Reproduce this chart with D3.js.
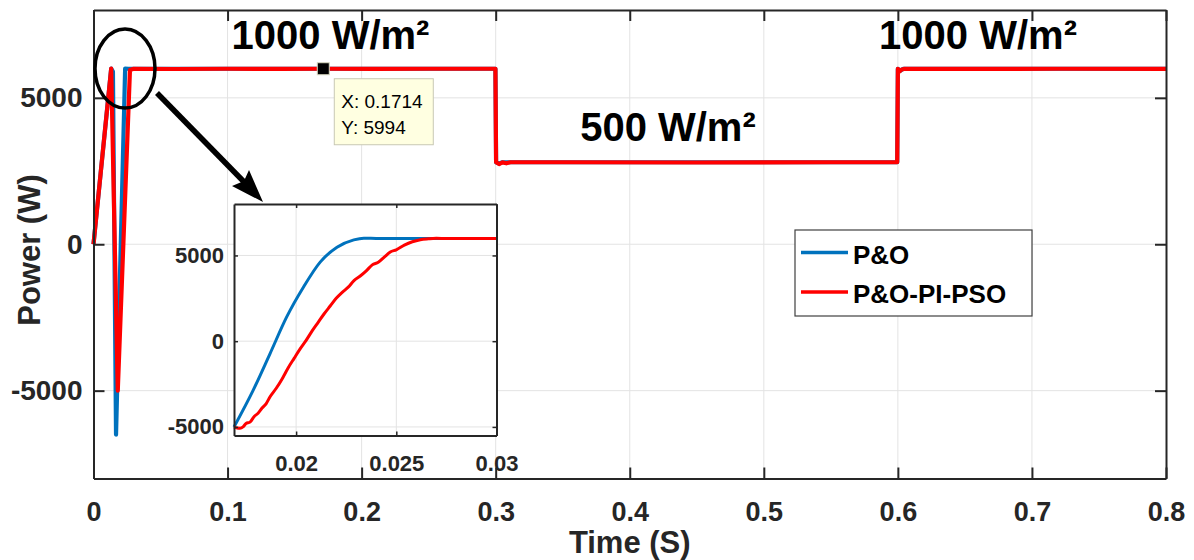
<!DOCTYPE html>
<html>
<head>
<meta charset="utf-8">
<script src="https://cdn.jsdelivr.net/npm/d3@7"></script>
<style>
  html, body { margin: 0; padding: 0; background: #fff; }
  svg { display: block; font-family: "Liberation Sans", Arial, Helvetica, sans-serif; }
</style>
</head>
<body>
<svg id="chart" width="1194" height="560"></svg>
<script>
// ---- Main plot data: output power (W) versus time (s) ----
const pandoTime  = [0, 0.0132, 0.0145, 0.0168, 0.0236, 0.026, 0.1, 0.2, 0.2998, 0.3003, 0.3025, 0.305, 0.4, 0.5, 0.5995, 0.6, 0.6015, 0.604, 0.7, 0.8];
const pandoPower = [0, 6000, 5900, -6500, 6000, 5994, 5994, 5994, 5994, 2800, 2760, 2800, 2800, 2800, 2800, 5994, 5920, 5994, 5994, 5994];

const psoTime  = [0, 0.0132, 0.0181, 0.0272, 0.03, 0.06, 0.1, 0.14, 0.1714, 0.21, 0.25, 0.2998, 0.3003, 0.3025, 0.305, 0.308, 0.311, 0.35, 0.45, 0.55, 0.5995, 0.6, 0.6012, 0.6025, 0.605, 0.65, 0.72, 0.8];
const psoPower = [0, 6000, -5000, 5950, 5994, 5985, 5994, 5988, 5994, 5986, 5994, 5994, 2800, 2740, 2795, 2765, 2800, 2800, 2792, 2800, 2800, 5994, 5900, 5960, 5994, 5988, 5994, 5990];

const xTicks = [0, 0.1, 0.2, 0.3, 0.4, 0.5, 0.6, 0.7, 0.8];
const yTicks = [-5000, 0, 5000];

// ---- Inset data: start-up transient ----
const insetPandoTime  = [0.0169, 0.01786, 0.0187, 0.01953, 0.02037, 0.0212, 0.02204, 0.02288, 0.02338, 0.024, 0.025, 0.026, 0.027, 0.028, 0.029, 0.03];
const insetPandoPower = [-5000, -2850, -720, 1415, 3160, 4610, 5480, 5910, 6008, 5990, 5982, 5994, 5985, 5994, 5990, 5985];

const insetPsoTime  = [0.0169, 0.01705, 0.0172, 0.01735, 0.0175, 0.0177, 0.0179, 0.0181, 0.0183, 0.0185, 0.0187, 0.0190, 0.0193, 0.0196, 0.0199, 0.0202, 0.0205, 0.0208, 0.0211, 0.0214, 0.0217, 0.0220, 0.0223, 0.0226, 0.0229, 0.0232, 0.0235, 0.0238, 0.0241, 0.0244, 0.0247, 0.0250, 0.0254, 0.0258, 0.0262, 0.0266, 0.0270, 0.0275, 0.028, 0.0285, 0.029, 0.0295, 0.03];
const insetPsoPower = [-5000, -5060, -5070, -5000, -4800, -4720, -4400, -4200, -3900, -3650, -3240, -2760, -2200, -1560, -1000, -450, 50, 600, 1100, 1600, 2050, 2500, 2850, 3150, 3550, 3800, 4100, 4450, 4600, 4900, 5200, 5330, 5600, 5800, 5920, 5970, 6000, 5990, 5994, 5985, 5994, 5990, 5985];

const insetXTicks = [0.02, 0.025, 0.03];
const insetYTicks = [-5000, 0, 5000];

const seriesNames = ["P&O", "P&O-PI-PSO"];
const seriesColors = ["#0072BD", "#FF0000"];

const irradianceLabels = [
  { text: "1000 W/m²", t: 0.103, p: 6668 },
  { text: "500 W/m²",  t: 0.363, p: 3526 },
  { text: "1000 W/m²", t: 0.586, p: 6668 }
];

const tipTime = 0.1714, tipPower = 5994;

// ---- Layout ----
const svg = d3.select("#chart");
svg.append("rect").attr("width", 1194).attr("height", 560).attr("fill", "#fff");

const M = { left: 93.5, right: 1166, top: 10, bottom: 478.5 };
const x = d3.scaleLinear().domain([0, 0.8]).range([M.left, M.right]);
const y = d3.scaleLinear().domain([-8000, 8000]).range([M.bottom, M.top]);

const axisColor = "#262626";
const gridColor = "#e3e3e3";
const fmtInt = d => String(d);   // plain hyphen for negatives

// grid
const g = svg.append("g");
g.selectAll(".gx").data(xTicks.slice(1, -1)).enter().append("line")
  .attr("x1", d => x(d)).attr("x2", d => x(d)).attr("y1", M.top).attr("y2", M.bottom)
  .attr("stroke", gridColor).attr("stroke-width", 1);
g.selectAll(".gy").data(yTicks).enter().append("line")
  .attr("y1", d => y(d)).attr("y2", d => y(d)).attr("x1", M.left).attr("x2", M.right)
  .attr("stroke", gridColor).attr("stroke-width", 1);

// series
const line = d3.line().x(d => x(d[0])).y(d => y(d[1]));
const mainSeries = [
  d3.zip(pandoTime, pandoPower),
  d3.zip(psoTime, psoPower)
];
mainSeries.forEach((s, i) => {
  svg.append("path").datum(s).attr("d", line)
    .attr("fill", "none").attr("stroke", seriesColors[i])
    .attr("stroke-width", 4.2).attr("stroke-linejoin", "round");
});

// axes (ticks inside, box on)
function styleAxis(sel, fontSize) {
  sel.select(".domain").attr("stroke", axisColor).attr("stroke-width", 2);
  sel.selectAll(".tick line").attr("stroke", axisColor).attr("stroke-width", 2);
  sel.selectAll("text").attr("fill", axisColor).attr("font-size", fontSize)
    .attr("font-weight", "bold").attr("font-family", "'Liberation Sans', Arial, sans-serif");
}
const fmtX = d => d === 0 ? "0" : d3.format(".1f")(d);
svg.append("g").attr("transform", `translate(0,${M.bottom})`)
  .call(d3.axisBottom(x).tickValues(xTicks).tickFormat(fmtX).tickSizeInner(-11).tickSizeOuter(0).tickPadding(23))
  .call(s => styleAxis(s, 27));
svg.append("g").attr("transform", `translate(0,${M.top})`)
  .call(d3.axisTop(x).tickValues(xTicks).tickFormat("").tickSizeInner(-11).tickSizeOuter(0))
  .call(s => styleAxis(s, 27));
svg.append("g").attr("transform", `translate(${M.left},0)`)
  .call(d3.axisLeft(y).tickValues(yTicks).tickFormat(fmtInt).tickSizeInner(-11).tickSizeOuter(0).tickPadding(11))
  .call(s => styleAxis(s, 28));
svg.append("g").attr("transform", `translate(${M.right},0)`)
  .call(d3.axisRight(y).tickValues(yTicks).tickFormat("").tickSizeInner(-11).tickSizeOuter(0))
  .call(s => styleAxis(s, 28));

// axis titles
svg.append("text").attr("x", (M.left + M.right) / 2).attr("y", 553)
  .attr("text-anchor", "middle").attr("font-size", 31).attr("font-weight", "bold")
  .attr("fill", axisColor).text("Time (S)");
svg.append("text").attr("transform", "translate(40,250) rotate(-90)")
  .attr("text-anchor", "middle").attr("font-size", 31).attr("font-weight", "bold")
  .attr("fill", axisColor).text("Power (W)");

// irradiance annotations
svg.selectAll(".irr").data(irradianceLabels).enter().append("text")
  .attr("x", d => x(d.t)).attr("y", d => y(d.p))
  .attr("font-size", 40).attr("font-weight", "bold").attr("fill", "#000")
  .text(d => d.text);

// data tip
const tx = x(tipTime), ty = y(tipPower);
svg.append("rect").attr("x", tx + 11).attr("y", ty + 10).attr("width", 99).attr("height", 66)
  .attr("fill", "#ffffe1").attr("stroke", "#c8c8b4").attr("stroke-width", 1);
svg.append("text").attr("x", tx + 18).attr("y", ty + 39).attr("font-size", 19).attr("fill", "#000")
  .attr("font-family", "'Liberation Sans', Arial, sans-serif").text(`X: ${tipTime}`);
svg.append("text").attr("x", tx + 18).attr("y", ty + 65).attr("font-size", 19).attr("fill", "#000")
  .attr("font-family", "'Liberation Sans', Arial, sans-serif").text(`Y: ${tipPower}`);
svg.append("rect").attr("x", tx - 6).attr("y", ty - 6).attr("width", 12).attr("height", 12)
  .attr("fill", "#000").attr("stroke", "#d8d8c0").attr("stroke-width", 1);

// zoom marker ellipse + arrow
svg.append("ellipse").attr("cx", x(0.0235)).attr("cy", y(6000)).attr("rx", 30).attr("ry", 39.5)
  .attr("fill", "none").attr("stroke", "#000").attr("stroke-width", 3.5);
svg.append("line").attr("x1", 157).attr("y1", 93).attr("x2", 250).attr("y2", 188)
  .attr("stroke", "#000").attr("stroke-width", 5.5);
svg.append("path").attr("d", "M263,202 L232,186 L244,181 L249,170 Z").attr("fill", "#000");

// ---- Inset ----
const I = { left: 234, right: 496.5, top: 204, bottom: 435.5 };
const xi = d3.scaleLinear().domain([0.0169, 0.03]).range([I.left, I.right]);
const yi = d3.scaleLinear().domain([-5500, 8000]).range([I.bottom, I.top]);

const ig = svg.append("g");
ig.append("rect").attr("x", I.left).attr("y", I.top).attr("width", I.right - I.left)
  .attr("height", I.bottom - I.top).attr("fill", "#fff");
ig.selectAll(".igx").data(insetXTicks.slice(0, -1)).enter().append("line")
  .attr("x1", d => xi(d)).attr("x2", d => xi(d)).attr("y1", I.top).attr("y2", I.bottom)
  .attr("stroke", gridColor);
ig.selectAll(".igy").data(insetYTicks).enter().append("line")
  .attr("y1", d => yi(d)).attr("y2", d => yi(d)).attr("x1", I.left).attr("x2", I.right)
  .attr("stroke", gridColor);

const iline = d3.line().x(d => xi(d[0])).y(d => yi(d[1])).curve(d3.curveMonotoneX);
[d3.zip(insetPandoTime, insetPandoPower), d3.zip(insetPsoTime, insetPsoPower)].forEach((s, i) => {
  ig.append("path").datum(s).attr("d", iline).attr("fill", "none")
    .attr("stroke", seriesColors[i]).attr("stroke-width", 3).attr("stroke-linejoin", "round");
});

function styleInset(sel) {
  sel.select(".domain").attr("stroke", axisColor).attr("stroke-width", 2);
  sel.selectAll(".tick line").attr("stroke", axisColor).attr("stroke-width", 1.5);
  sel.selectAll("text").attr("fill", axisColor).attr("font-size", 22).attr("font-weight", "bold")
    .attr("font-family", "'Liberation Sans', Arial, sans-serif");
}
const fmtIX = d => String(+d.toFixed(3));
ig.append("g").attr("transform", `translate(0,${I.bottom})`)
  .call(d3.axisBottom(xi).tickValues(insetXTicks).tickFormat(fmtIX).tickSizeInner(-4).tickSizeOuter(0).tickPadding(20))
  .call(styleInset);
ig.append("g").attr("transform", `translate(0,${I.top})`)
  .call(d3.axisTop(xi).tickValues(insetXTicks).tickFormat("").tickSizeInner(-4).tickSizeOuter(0))
  .call(styleInset);
ig.append("g").attr("transform", `translate(${I.left},0)`)
  .call(d3.axisLeft(yi).tickValues(insetYTicks).tickFormat(fmtInt).tickSizeInner(-4).tickSizeOuter(0).tickPadding(10))
  .call(styleInset);
ig.append("g").attr("transform", `translate(${I.right},0)`)
  .call(d3.axisRight(yi).tickValues(insetYTicks).tickFormat("").tickSizeInner(-4).tickSizeOuter(0))
  .call(styleInset);

// ---- Legend ----
const L = { x: 795, y: 230, w: 237, h: 86 };
const lg = svg.append("g");
lg.append("rect").attr("x", L.x).attr("y", L.y).attr("width", L.w).attr("height", L.h)
  .attr("fill", "#fff").attr("stroke", "#404040").attr("stroke-width", 1.2);
seriesNames.forEach((name, i) => {
  const cy = L.y + 22.5 + i * 39.5;
  lg.append("line").attr("x1", L.x + 6).attr("x2", L.x + 53).attr("y1", cy).attr("y2", cy)
    .attr("stroke", seriesColors[i]).attr("stroke-width", 3.5);
  lg.append("text").attr("x", L.x + 58).attr("y", cy + 11)
    .attr("font-size", 26).attr("font-weight", "bold").attr("fill", "#000").text(name);
});
</script>
</body>
</html>
